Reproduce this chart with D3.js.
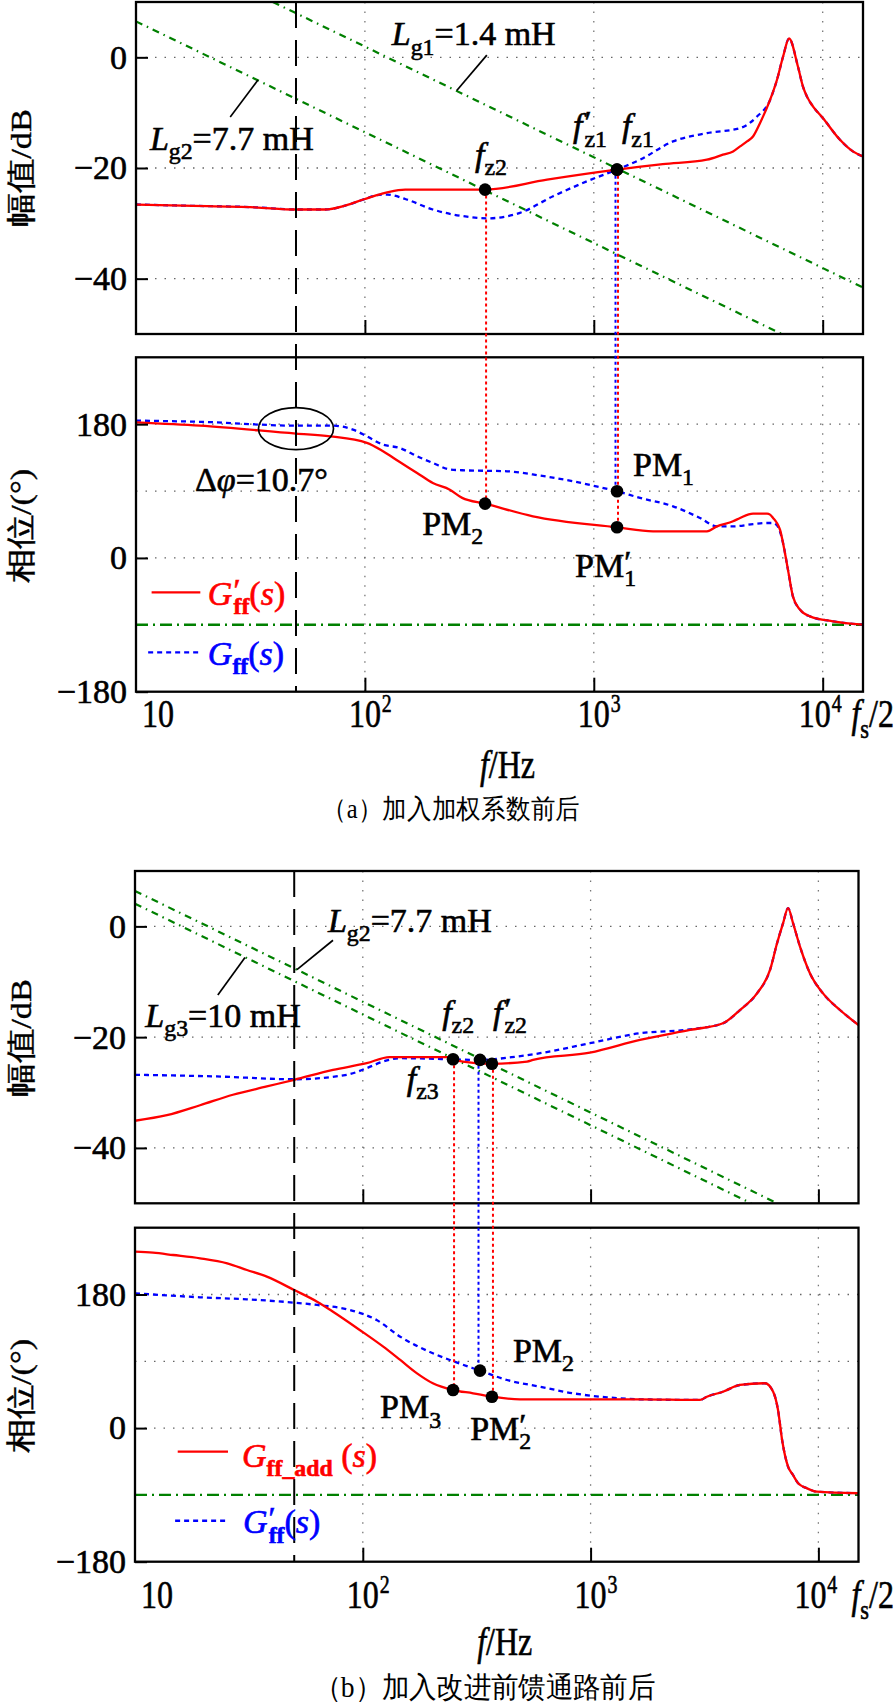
<!DOCTYPE html>
<html><head><meta charset="utf-8">
<script src="https://cdn.jsdelivr.net/npm/d3@7"></script>
<style>
body{margin:0;background:#fff;}
svg{display:block;}
text{font-family:"Liberation Serif","Times New Roman",serif;}
</style></head><body>
<svg id="chart" width="896" height="1708"></svg>
<script>
// ---------------- DATA ----------------
const freqDomain = [10, 15000];
const magTicks = [0, -20, -40];
const phaseTicks = [180, 0, -180];
const magGrid = [0, -20, -40];
const phaseGrid = [180, 90, 0];
const decadeTicks = [100, 1000, 10000];
const xTickVals = [10, 100, 1000, 10000];
const xTickExp = ["", "2", "3", "4"];
const gridFreq = 50;          // 50 Hz dashed line
const phaseRef = -90;         // green reference line in phase plots

// (a) magnitude, G'ff (red) and Gff (blue)
const aMagRedF  = [10, 16, 33, 50, 67, 82, 100, 120, 128, 150, 335, 625, 1260, 2000, 3120, 3665, 4060, 4355, 4670, 4960, 5320, 5890, 6310, 6710, 7130, 7800, 8200, 8540, 9080, 10030, 11900, 13550, 15000];
const aMagRedDb = [-26.6, -26.8, -27.1, -27.5, -27.5, -26.8, -25.6, -24.6, -24.3, -23.9, -23.9, -22.1, -20.3, -19.3, -18.5, -17.6, -17.0, -16.1, -15.2, -14.3, -11.9, -7.7, -4.1, 0.1, 3.4, -1.7, -5.3, -7.1, -8.9, -11.0, -14.9, -17.0, -17.9];
const aMagBlueF  = [10, 16, 33, 50, 67, 82, 100, 113, 125, 150, 198, 279, 341, 476, 664, 934, 1260, 1592, 2219, 3120, 4355, 5165, 5890, 6310, 6710, 7130, 7800, 8200, 8540, 9080, 10030, 11900, 13550, 15000];
const aMagBlueDb = [-26.6, -26.8, -27.1, -27.5, -27.5, -26.8, -25.6, -24.9, -24.8, -25.6, -27.5, -28.8, -29.1, -28.1, -25.1, -22.4, -20.3, -18.5, -15.2, -13.7, -12.8, -10.7, -7.7, -4.1, 0.1, 3.4, -1.7, -5.3, -7.1, -8.9, -11.0, -14.9, -17.0, -17.9];
// (a) phase
const aPhRedF   = [10, 19, 50, 70.5, 102, 120, 142, 169, 198, 235, 266, 335, 542, 1263, 1815, 3123, 3450, 4058, 4355, 4963, 5714, 5890, 6070, 6310, 6508, 6710, 7050, 7410, 7960, 8800, 11090, 15000];
const aPhRedDeg = [182.5, 178, 167.3, 163.7, 154.8, 143.5, 129, 114.4, 100.9, 91.9, 80.8, 73.1, 56, 41.2, 35.8, 35.8, 42.5, 49.3, 53.8, 59.6, 59.6, 58.3, 53.8, 47, 38, 20.2, -15.7, -51.7, -69.6, -78.6, -85.3, -89.8];
const aPhBlueF   = [10, 20, 50, 72.6, 88.7, 102, 120, 142, 169, 198, 235, 266, 418, 582, 811, 993, 1263, 1592, 2219, 2910, 3450, 4058, 4963, 5714, 6070, 6310, 6710, 7050, 7410, 7960, 8800, 11090, 15000];
const aPhBlueDeg = [184.8, 183, 178, 178, 172.7, 163.7, 152.5, 148, 136.8, 127.9, 119, 118, 116.6, 110.8, 103.2, 97.3, 89.7, 80.8, 69.5, 53.8, 42.5, 42.5, 45.5, 47, 47, 44, 20.2, -15.7, -51.7, -69.6, -78.6, -85.3, -89.8];
// (a) grid-inductance asymptotes
const aLg1F = [39.6, 15000], aLg1Db = [10, -41.6];
const aLg2F = [10, 6620],    aLg2Db = [6.5, -50];
// (a) crossing markers
const aMarkF = [335, 1263, 1263];
const aMarkMag = [-23.9, -20.3, -20.3];
const aMarkPh = [73.1, 41.2, 89.7];
const aMarkSeries = ["red", "red", "blue"];

// (b) magnitude, Gff_add (red) and G'ff (blue)
const bMagRedF  = [10, 13.8, 19.3, 26.9, 37.9, 50, 74, 104, 131, 234, 249, 275, 369, 526, 559, 993, 1647, 2730, 3810, 4525, 5375, 6130, 6580, 7000, 7360, 7740, 8310, 9190, 10480, 12440, 15000];
const bMagRedDb = [-35.1, -34.1, -32.3, -30.4, -28.9, -27.7, -25.9, -24.7, -23.6, -23.6, -24.0, -24.4, -24.8, -24.4, -24.1, -22.8, -20.5, -18.7, -17.5, -15.1, -12.1, -7.9, -3.1, 0.6, 3.3, 0.6, -3.7, -8.5, -12.1, -15.1, -17.8];
const bMagBlueF  = [10, 22.9, 50, 85, 104, 123, 146, 327, 475, 600, 993, 1647, 2730, 3810, 4525, 5375, 6130, 6580, 7000, 7360, 7740, 8310, 9190, 10480, 12440, 15000];
const bMagBlueDb = [-26.8, -27.1, -27.6, -26.8, -25.6, -24.4, -23.8, -24.1, -23.5, -22.9, -21.1, -19.3, -18.6, -17.5, -15.1, -12.1, -7.9, -3.1, 0.6, 3.3, 0.6, -3.7, -8.5, -12.1, -15.1, -17.8];
// (b) phase
const bPhRedF   = [10, 12, 14.7, 19.3, 25.4, 31, 37.9, 50, 63, 74, 97, 123, 146, 173, 203, 249, 305, 369, 490, 1647, 3020, 3240, 3810, 4525, 5830, 6330, 6650, 6930, 7360, 7740, 8150, 8910, 9860, 15000];
const bPhRedDeg = [237.7, 236.3, 233.2, 228.8, 222, 213, 204, 186, 170.3, 156.8, 132.2, 109.7, 91.8, 73.8, 60.4, 51.3, 46.9, 42.3, 38.8, 38.8, 37.9, 42.3, 49, 58.1, 60.4, 49, 24.4, -16, -52, -63.2, -74.4, -81.1, -85.7, -87.8];
const bPhBlueF   = [10, 19.3, 31, 50, 63, 88, 115, 146, 203, 241, 327, 430, 600, 837, 1180, 1647, 3020, 3240, 3810, 4525, 5830, 6330, 6650, 6930, 7360, 7740, 8150, 8910, 9860, 15000];
const bPhBlueDeg = [181.6, 176.2, 173.5, 169, 165.9, 159.1, 145.6, 123.2, 100.8, 91.8, 77.4, 64.8, 55.8, 46.9, 41.5, 38.8, 37.9, 42.3, 49, 58.1, 60.4, 49, 24.4, -16, -52, -63.2, -74.4, -81.1, -85.7, -87.8];
// (b) grid-inductance asymptotes
const bLg2F = [10, 6600], bLg2Db = [6.4, -50];
const bLg3F = [10, 5070], bLg3Db = [4.1, -50];
// (b) crossing markers
const bMarkF = [249, 327, 369];
const bMarkMag = [-24.0, -24.1, -24.8];
const bMarkPh = [51.3, 77.4, 42.3];
const bMarkSeries = ["red", "blue", "red"];

// ---------------- STYLE / LAYOUT ----------------
const COL = {red: "#ff0000", blue: "#0000ff", green: "#008000"};
const svg = d3.select("#chart");
const FS = 34;

function makePanel(id, x0, x1, y0, y1, yDomain) {
  const x = d3.scaleLog().domain(freqDomain).range([x0, x1]);
  const y = d3.scaleLinear().domain(yDomain).range([y1, y0]);
  svg.append("clipPath").attr("id", "clip-" + id).append("rect")
    .attr("x", x0).attr("y", y0).attr("width", x1 - x0).attr("height", y1 - y0);
  const g = svg.append("g");
  const plot = g.append("g").attr("clip-path", `url(#clip-${id})`);
  return {x, y, g, plot, x0, x1, y0, y1};
}

function grid(p, hVals) {
  p.plot.selectAll(null).data(decadeTicks).enter().append("line")
    .attr("x1", d => p.x(d)).attr("x2", d => p.x(d)).attr("y1", p.y0).attr("y2", p.y1)
    .attr("stroke", "#777").attr("stroke-width", 1.3).attr("stroke-dasharray", "1.5,8");
  p.plot.selectAll(null).data(hVals).enter().append("line")
    .attr("y1", d => p.y(d)).attr("y2", d => p.y(d)).attr("x1", p.x0).attr("x2", p.x1)
    .attr("stroke", "#666").attr("stroke-width", 1.3).attr("stroke-dasharray", "1.5,8");
}

function frame(p, ticks) {
  const ax = d3.axisLeft(p.y).tickValues(ticks).tickSizeInner(-12).tickSizeOuter(0).tickPadding(8);
  const ga = p.g.append("g").attr("transform", `translate(${p.x0},0)`).call(ax);
  ga.select(".domain").remove();
  ga.selectAll(".tick line").attr("stroke", "#000").attr("stroke-width", 2);
  ga.selectAll(".tick text").attr("font-size", FS).attr("font-family", "Liberation Serif")
    .attr("fill", "#000").attr("stroke", "#000").attr("stroke-width", 0.6).attr("dx", -1);
  const bx = d3.axisBottom(p.x).tickValues(decadeTicks).tickSizeInner(-14).tickSizeOuter(0).tickFormat("");
  const gb = p.g.append("g").attr("transform", `translate(0,${p.y1})`).call(bx);
  gb.select(".domain").remove();
  gb.selectAll(".tick line").attr("stroke", "#000").attr("stroke-width", 2);
  p.g.append("rect").attr("x", p.x0).attr("y", p.y0).attr("width", p.x1 - p.x0).attr("height", p.y1 - p.y0)
    .attr("fill", "none").attr("stroke", "#000").attr("stroke-width", 2.3);
}

function curve(p, F, V, color, dash, w) {
  const pts = F.map((f, i) => [p.x(f), p.y(V[i])]);
  p.plot.append("path").attr("d", d3.line().curve(d3.curveMonotoneX)(pts))
    .attr("fill", "none").attr("stroke", color).attr("stroke-width", w || 2.3)
    .attr("stroke-dasharray", dash || null).attr("stroke-linejoin", "round");
}

function straight(p, F, V, dash, w) {
  const pts = F.map((f, i) => [p.x(f), p.y(V[i])]);
  p.plot.append("path").attr("d", d3.line()(pts)).attr("fill", "none")
    .attr("stroke", COL.green).attr("stroke-width", w || 2.2).attr("stroke-dasharray", dash);
}

// parts: {t, i(talic), sub, sup, prime, b(old), dx}
function rich(g, x, y, parts, opt) {
  opt = opt || {};
  const size = opt.size || FS;
  const fill = opt.fill || "#000";
  const t = g.append("text").attr("x", x).attr("y", y).attr("font-size", size)
    .attr("fill", fill).attr("stroke", fill).attr("stroke-width", opt.sw === undefined ? 0.6 : opt.sw)
    .attr("text-anchor", opt.anchor || "start");
  let cur = 0;
  parts.forEach(pt => {
    let off = 0, fs = size;
    if (pt.sub) { off = size * 0.28; fs = size * 0.7; }
    else if (pt.sup) { off = -size * 0.38; fs = size * 0.62; }
    else if (pt.prime) { off = -size * 0.12; fs = size * 0.95; }
    const s = t.append("tspan").text(pt.t).attr("font-size", fs).attr("dy", off - cur);
    if (pt.dx) s.attr("dx", pt.dx * size / 34);
    if (pt.i) s.attr("font-style", "italic");
    if (pt.b) s.attr("font-weight", "bold");
    cur = off;
  });
  return t;
}

function leader(g, p, f1, v1, f2, v2) {
  g.append("line").attr("x1", p.x(f1)).attr("y1", p.y(v1)).attr("x2", p.x(f2)).attr("y2", p.y(v2))
    .attr("stroke", "#000").attr("stroke-width", 1.7);
}

function xLabels(p, yPos, fHzY, caption, capX, capY, capW, capSize) {
  xTickVals.forEach((v, i) => {
    let cx = p.x(v);
    if (i === 0) cx += 22;
    if (i === xTickVals.length - 1) cx -= 8;
    const gg = p.g.append("g").attr("transform", `translate(${cx},${yPos}) scale(0.8,1)`);
    const parts = [{t: "10"}];
    if (xTickExp[i]) parts.push({t: xTickExp[i], sup: true, dx: 1});
    const t = rich(gg, 0, 0, parts, {size: 40, anchor: "start"});
    t.attr("x", -20);
  });
  const gs = p.g.append("g").attr("transform", `translate(894,${yPos}) scale(0.8,1)`);
  rich(gs, 0, 0, [{t: "f", i: true}, {t: "s", sub: true}, {t: "/2"}], {size: 40, anchor: "end"});
  const gf = p.g.append("g").attr("transform", `translate(${(p.x0 + p.x1) / 2 + 8},${fHzY}) scale(0.8,1)`);
  rich(gf, 0, 0, [{t: "f", i: true}, {t: "/Hz"}], {size: 40, anchor: "middle"});
  // caption: measured, then squeezed horizontally to the reference width
  const cg = p.g.append("g");
  const ct = cg.append("text").attr("x", 0).attr("y", 0)
    .attr("font-family", "Noto Sans CJK SC").attr("font-size", capSize).text(caption);
  const w = ct.node().getComputedTextLength() || capW;
  cg.attr("transform", `translate(${capX - capW / 2},${capY}) scale(${capW / w},1)`);
}

function yLabel(text, cx, cy) {
  svg.append("text").attr("transform", `translate(${cx},${cy}) rotate(-90) scale(1.15,1)`)
    .attr("text-anchor", "middle").attr("dominant-baseline", "central")
    .attr("font-family", "Noto Sans CJK SC, Liberation Serif").attr("font-size", 30)
    .attr("stroke", "#000").attr("stroke-width", 0.4).text(text);
}

function markers(pm, pp, F, M, P, S) {
  F.forEach((f, i) => {
    const off = S[i] === "blue" ? -1.5 : 1;
    svg.append("line").attr("x1", pm.x(f) + off).attr("x2", pm.x(f) + off)
      .attr("y1", pm.y(M[i])).attr("y2", pp.y(P[i]))
      .attr("stroke", COL[S[i]]).attr("stroke-width", 2).attr("stroke-dasharray", "3,3");
  });
  F.forEach((f, i) => {
    svg.append("circle").attr("cx", pm.x(f)).attr("cy", pm.y(M[i])).attr("r", 6.3).attr("fill", "#000");
    svg.append("circle").attr("cx", pp.x(f)).attr("cy", pp.y(P[i])).attr("r", 6.3).attr("fill", "#000");
  });
}

const GREEN_MAG = "7,5,1.5,5";
const GREEN_PH = "12,5,2,5";
const BLUE_DASH = "5,4";

// ================= PANEL (a) =================
const aM = makePanel("aM", 136, 863, 2, 334, [-50, 10]);
const aP = makePanel("aP", 136, 863, 357.3, 691.7, [-180, 270]);
grid(aM, magGrid); grid(aP, phaseGrid);
straight(aM, aLg1F, aLg1Db, GREEN_MAG);
straight(aM, aLg2F, aLg2Db, GREEN_MAG);
straight(aP, freqDomain, [phaseRef, phaseRef], GREEN_PH, 2.4);
curve(aM, aMagBlueF, aMagBlueDb, COL.blue, BLUE_DASH);
curve(aM, aMagRedF, aMagRedDb, COL.red);
curve(aP, aPhBlueF, aPhBlueDeg, COL.blue, BLUE_DASH);
curve(aP, aPhRedF, aPhRedDeg, COL.red);
frame(aM, magTicks); frame(aP, phaseTicks);
svg.append("line").attr("x1", aM.x(gridFreq)).attr("x2", aM.x(gridFreq)).attr("y1", aM.y0).attr("y2", aP.y1)
  .attr("stroke", "#000").attr("stroke-width", 2).attr("stroke-dasharray", "26,12");
markers(aM, aP, aMarkF, aMarkMag, aMarkPh, aMarkSeries);

// annotations (a)
rich(svg, aM.x(131), aM.y(2.2), [{t: "L", i: true}, {t: "g1", sub: true}, {t: "=1.4 mH"}]);
leader(svg, aM, 341, 0.4, 252, -6.0);
rich(svg, aM.x(11.5), aM.y(-16.7), [{t: "L", i: true}, {t: "g2", sub: true}, {t: "=7.7 mH"}]);
leader(svg, aM, 34.1, -4.1, 25.8, -10.8);
rich(svg, aM.x(811), aM.y(-14.4), [{t: "f", i: true}, {t: "′", prime: true, dx: 2}, {t: "z1", sub: true, dx: -7}]);
rich(svg, aM.x(1327), aM.y(-14.4), [{t: "f", i: true}, {t: "z1", sub: true}]);
rich(svg, aM.x(303), aM.y(-19.6), [{t: "f", i: true}, {t: "z2", sub: true}]);
rich(svg, aP.x(1483), aP.y(110.8), [{t: "PM"}, {t: "1", sub: true}]);
rich(svg, aP.x(178), aP.y(31.4), [{t: "PM"}, {t: "2", sub: true}]);
rich(svg, aP.x(828), aP.y(-25.2), [{t: "PM"}, {t: "′", prime: true}, {t: "1", sub: true, dx: -7}]);
rich(svg, aP.x(18.1), aP.y(89.6), [{t: "Δ"}, {t: "φ", i: true}, {t: "=10.7°"}]);
svg.append("ellipse").attr("cx", aP.x(gridFreq)).attr("cy", aP.y(174)).attr("rx", 37.5).attr("ry", 21)
  .attr("fill", "none").attr("stroke", "#000").attr("stroke-width", 1.7);
// legend (a)
svg.append("line").attr("x1", aP.x(11.7)).attr("x2", aP.x(19.1)).attr("y1", aP.y(-46.3)).attr("y2", aP.y(-46.3))
  .attr("stroke", COL.red).attr("stroke-width", 2.3);
rich(svg, aP.x(20.6), aP.y(-62.9), [{t: "G", i: true}, {t: "′", prime: true, dx: 1}, {t: "ff", sub: true, b: true, dx: -7}, {t: "("}, {t: "s", i: true}, {t: ")"}], {fill: COL.red});
svg.append("line").attr("x1", aP.x(11.3)).attr("x2", aP.x(19.1)).attr("y1", aP.y(-127)).attr("y2", aP.y(-127))
  .attr("stroke", COL.blue).attr("stroke-width", 2.3).attr("stroke-dasharray", BLUE_DASH);
rich(svg, aP.x(20.6), aP.y(-143.6), [{t: "G", i: true}, {t: "ff", sub: true, b: true}, {t: "("}, {t: "s", i: true}, {t: ")"}], {fill: COL.blue});
yLabel("幅值/dB", 21, 168);
yLabel("相位/(°)", 21, 526);
xLabels(aP, 727, 778, "（a）加入加权系数前后", 450, 818, 256, 27);

// ================= PANEL (b) =================
const bM = makePanel("bM", 135, 858.5, 871, 1203.3, [-50, 10]);
const bP = makePanel("bP", 135, 858.5, 1227.7, 1561.7, [-180, 270]);
grid(bM, magGrid); grid(bP, phaseGrid);
straight(bM, bLg2F, bLg2Db, GREEN_MAG);
straight(bM, bLg3F, bLg3Db, GREEN_MAG);
straight(bP, freqDomain, [phaseRef, phaseRef], GREEN_PH, 2.4);
curve(bM, bMagBlueF, bMagBlueDb, COL.blue, BLUE_DASH);
curve(bM, bMagRedF, bMagRedDb, COL.red);
curve(bP, bPhBlueF, bPhBlueDeg, COL.blue, BLUE_DASH);
curve(bP, bPhRedF, bPhRedDeg, COL.red);
frame(bM, magTicks); frame(bP, phaseTicks);
svg.append("line").attr("x1", bM.x(gridFreq)).attr("x2", bM.x(gridFreq)).attr("y1", bM.y0).attr("y2", bP.y1)
  .attr("stroke", "#000").attr("stroke-width", 2).attr("stroke-dasharray", "26,12");
markers(bM, bP, bMarkF, bMarkMag, bMarkPh, bMarkSeries);

rich(svg, bM.x(70.3), bM.y(-1.0), [{t: "L", i: true}, {t: "g2", sub: true}, {t: "=7.7 mH"}]);
leader(svg, bM, 74, -2.5, 51.4, -7.8);
rich(svg, bM.x(11.1), bM.y(-18.1), [{t: "L", i: true}, {t: "g3", sub: true}, {t: "=10 mH"}]);
leader(svg, bM, 30.4, -5.6, 23.1, -12.4);
rich(svg, bM.x(223), bM.y(-17.6), [{t: "f", i: true}, {t: "z2", sub: true}]);
rich(svg, bM.x(373), bM.y(-17.6), [{t: "f", i: true}, {t: "′", prime: true, dx: 2}, {t: "z2", sub: true, dx: -7}]);
rich(svg, bM.x(156), bM.y(-29.5), [{t: "f", i: true}, {t: "z3", sub: true}]);
rich(svg, bP.x(456), bP.y(89.5), [{t: "PM"}, {t: "2", sub: true}]);
rich(svg, bP.x(119), bP.y(13.6), [{t: "PM"}, {t: "3", sub: true}]);
rich(svg, bP.x(296), bP.y(-16), [{t: "PM"}, {t: "′", prime: true}, {t: "2", sub: true, dx: -7}]);
// legend (b)
svg.append("line").attr("x1", bP.x(15.4)).attr("x2", bP.x(25.6)).attr("y1", bP.y(-31.8)).attr("y2", bP.y(-31.8))
  .attr("stroke", COL.red).attr("stroke-width", 2.3);
rich(svg, bP.x(29.5), bP.y(-52), [{t: "G", i: true}, {t: "ff_add", sub: true, b: true}, {t: " ("}, {t: "s", i: true}, {t: ")"}], {fill: COL.red});
svg.append("line").attr("x1", bP.x(15.0)).attr("x2", bP.x(25.6)).attr("y1", bP.y(-124.8)).attr("y2", bP.y(-124.8))
  .attr("stroke", COL.blue).attr("stroke-width", 2.3).attr("stroke-dasharray", BLUE_DASH);
rich(svg, bP.x(29.8), bP.y(-141.4), [{t: "G", i: true}, {t: "′", prime: true, dx: 1}, {t: "ff", sub: true, b: true, dx: -7}, {t: "("}, {t: "s", i: true}, {t: ")"}], {fill: COL.blue});
yLabel("幅值/dB", 21, 1038);
yLabel("相位/(°)", 21, 1396);
xLabels(bP, 1608, 1655, "（b）加入改进前馈通路前后", 486, 1697, 345, 29);
</script></body></html>
